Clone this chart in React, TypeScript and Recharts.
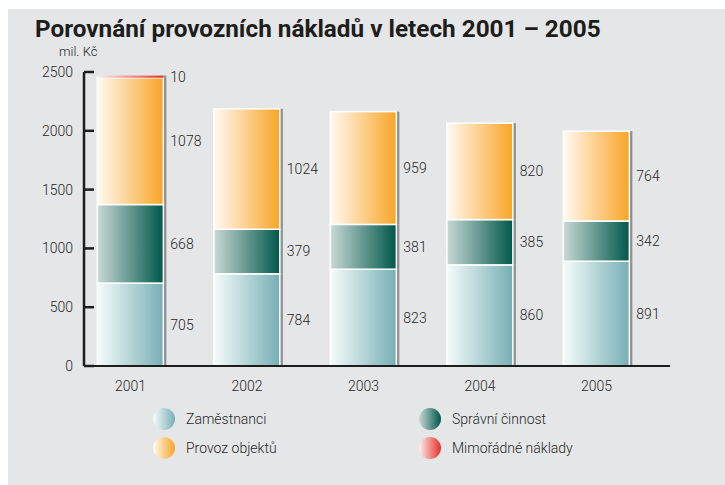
import React from 'react';
import { BarChart, Bar, XAxis, YAxis, LabelList } from 'recharts';

const years = ['2001', '2002', '2003', '2004', '2005'];
const zamestnanci = [705, 784, 823, 860, 891];
const spravni = [668, 379, 381, 385, 342];
const provoz = [1078, 1024, 959, 820, 764];
const mimoradne = [10, 0, 0, 0, 0];
const yTicks = [0, 500, 1000, 1500, 2000, 2500];

const data = years.map((year, i) => ({
  i,
  year,
  zamestnanci: zamestnanci[i],
  spravni: spravni[i],
  provoz: provoz[i],
  mimoradne: mimoradne[i],
}));

const FONT = "Roboto, 'Liberation Sans', sans-serif";
const INK = '#1d1d1b';
const TXT = '#262626';

const series = [
  { key: 'zamestnanci', name: 'Zaměstnanci', from: '#f6fbfb', to: '#76afb5' },
  { key: 'spravni', name: 'Správní činnost', from: '#c9d9d6', to: '#00574a' },
  { key: 'provoz', name: 'Provoz objektů', from: '#fffaf2', to: '#f8a526' },
  { key: 'mimoradne', name: 'Mimořádné náklady', from: '#fdeeea', to: '#e5302a' },
];

const makeShape = (id: string, thin: boolean) => (props: any) => {
  const { x, y, width, height } = props;
  if (!height || height <= 0) return <g />;
  return (
    <g>
      <rect x={x + width} y={y - (thin ? 1 : 0)} width={3} height={height + (thin ? 1 : 0)} fill="#8e8e8e" />
      <rect
        x={x}
        y={thin ? y - 1 : y}
        width={width}
        height={thin ? height + 1 : height}
        fill={`url(#${id})`}
        stroke={thin ? 'none' : '#ffffff'}
        strokeWidth={1.5}
      />
    </g>
  );
};

const YTick = (props: any) => {
  const { x, y, payload } = props;
  return (
    <g>
      <line x1={x} x2={x + 10} y1={y} y2={y} stroke={INK} strokeWidth={2.5} />
      <text x={x - 11} y={y} dy={5} textAnchor="end" fill={TXT} fontSize={14} fontWeight={300} fontFamily={FONT}>
        {payload.value}
      </text>
    </g>
  );
};

const hideZero = (v: any) => (v ? v : '');

export default function App() {
  return (
    <div style={{ position: 'absolute', left: 0, top: 0, width: 725, height: 485, background: '#ffffff', overflow: 'hidden' }}>
      <div style={{ position: 'absolute', left: 8, top: 9, right: 0, bottom: 0, background: '#e5e6e8' }} />
      <div
        style={{
          position: 'absolute', left: 35, top: 14, fontFamily: FONT,
          fontWeight: 700, fontSize: 24.3, color: INK, whiteSpace: 'nowrap',
        }}
      >
        Porovnání provozních nákladů v letech 2001 – 2005
      </div>
      <div style={{ position: 'absolute', left: 59, top: 44, fontFamily: FONT, fontWeight: 300, fontSize: 13, color: TXT }}>
        mil. Kč
      </div>
      <div style={{ position: 'absolute', left: 0, top: 0 }}>
        <BarChart width={725} height={485} data={data} margin={{ top: 72, right: 55, bottom: 89, left: 0 }}>
          <defs>
            {series.map((s) => (
              <linearGradient key={s.key} id={`g-${s.key}`} x1="0" y1="0" x2="1" y2="0">
                <stop offset="0%" stopColor={s.from} />
                <stop offset="100%" stopColor={s.to} />
              </linearGradient>
            ))}
          </defs>
          <XAxis
            dataKey="i"
            type="number"
            domain={[-0.4, 4.63]}
            ticks={[0, 1, 2, 3, 4]}
            allowDataOverflow
            tickFormatter={(v) => years[v]}
            height={30}
            axisLine={{ stroke: INK, strokeWidth: 2 }}
            tickLine={false}
            tickMargin={9}
            tick={{ fill: TXT, fontSize: 14, fontWeight: 300, fontFamily: FONT }}
          />
          <YAxis
            width={84}
            domain={[0, 2500]}
            ticks={yTicks}
            axisLine={{ stroke: INK, strokeWidth: 2.5 }}
            tickLine={false}
            tickSize={0}
            tickMargin={0}
            tick={<YTick />}
          />
          {series.map((s) => (
            <Bar
              key={s.key}
              dataKey={s.key}
              name={s.name}
              stackId="a"
              barSize={66}
              fill={s.to}
              isAnimationActive={false}
              shape={makeShape(`g-${s.key}`, s.key === 'mimoradne')}
            >
              <LabelList
                dataKey={s.key}
                position="right"
                offset={7}
                formatter={hideZero}
                style={{ fill: TXT, fontSize: 14, fontWeight: 300, fontFamily: FONT }}
              />
            </Bar>
          ))}
        </BarChart>
      </div>
      {series.map((s, idx) => {
        const col = idx % 2;
        const row = Math.floor(idx / 2);
        return (
          <div
            key={s.key}
            style={{
              position: 'absolute', left: col === 0 ? 153 : 419, top: 408 + row * 29,
              display: 'flex', alignItems: 'center', fontFamily: FONT, fontSize: 14, fontWeight: 300, color: TXT,
            }}
          >
            <span
              style={{
                display: 'inline-block', width: 22, height: 22, borderRadius: 11,
                background: `linear-gradient(to right, ${s.from}, ${s.to})`, marginRight: 11,
              }}
            />
            {s.name}
          </div>
        );
      })}
    </div>
  );
}
